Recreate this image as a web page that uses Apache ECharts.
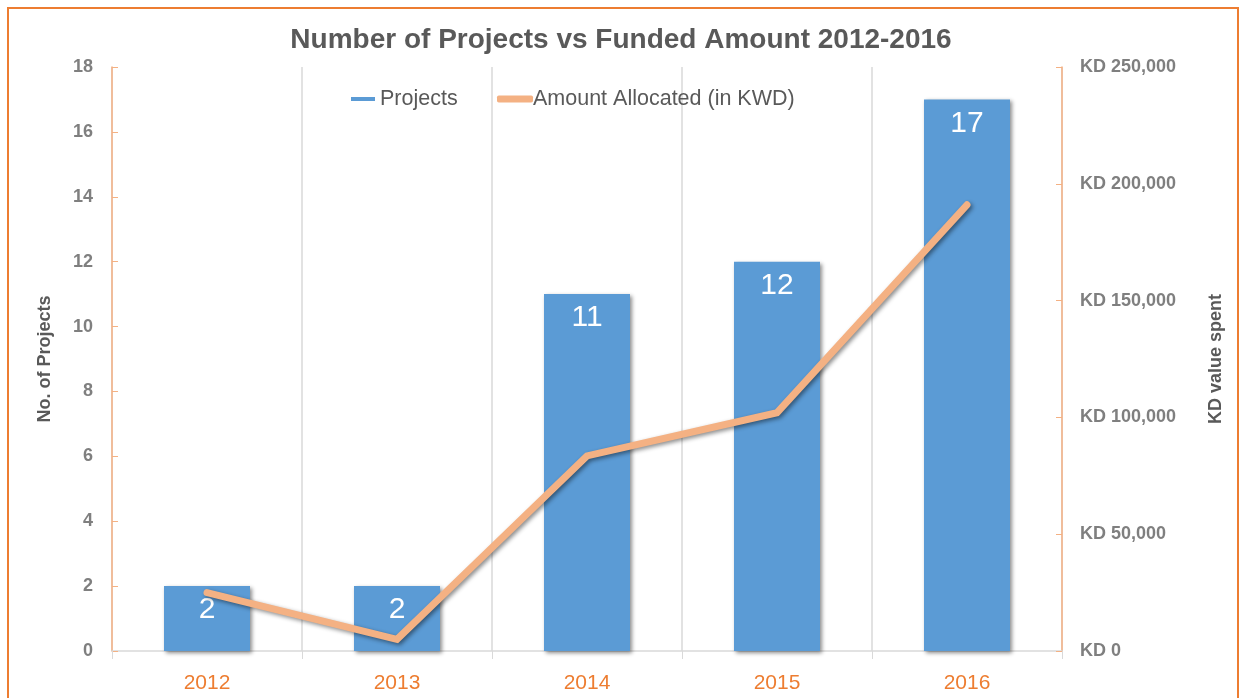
<!DOCTYPE html>
<html>
<head>
<meta charset="utf-8">
<title>Number of Projects vs Funded Amount 2012-2016</title>
<script src="https://cdn.jsdelivr.net/npm/echarts@6/dist/echarts.min.js"></script>
<style>
  html, body {
    margin: 0;
    padding: 0;
    background: #fff;
    overflow: hidden;
  }
  #frame {
    position: absolute;
    left: 7px;
    top: 7px;
    width: 1228px;
    height: 720px;
    border: 2px solid #ED7D31;
  }
  #chart {
    position: absolute;
    left: 0;
    top: 0;
    width: 1239px;
    height: 698px;
  }
</style>
</head>
<body>
<div id="frame"></div>
<div id="chart"></div>
<script>
  var years = ["2012", "2013", "2014", "2015", "2016"];
  var projects = [2, 2, 11, 12, 17];
  var amounts = [25000, 5000, 83500, 102000, 191000];
  var leftTicks = { min: 0, max: 18, interval: 2 };
  var rightTicks = { min: 0, max: 250000, interval: 50000 };

  var chart = echarts.init(document.getElementById("chart"));
  var font = "'Liberation Sans', Arial, sans-serif";

  chart.setOption({
    animation: false,
    title: {
      text: "Number of Projects vs Funded Amount 2012-2016",
      left: 616,
      textAlign: "center",
      top: 21,
      textStyle: {
        fontFamily: font,
        fontSize: 28,
        fontWeight: "bold",
        color: "#595959"
      }
    },
    legend: [{
      left: 346,
      top: 83,
      data: ["Projects"],
      icon: "rect",
      itemWidth: 24,
      itemHeight: 4,
      textStyle: { fontFamily: font, fontSize: 21.5, color: "#595959" }
    }, {
      left: 492,
      top: 83,
      data: ["Amount Allocated (in KWD)"],
      icon: "roundRect",
      itemWidth: 36,
      itemHeight: 7,
      textStyle: { fontFamily: font, fontSize: 21.5, color: "#595959", padding: [0, 0, 0, -5] }
    }],
    grid: {
      left: 112,
      right: 177,
      top: 67,
      bottom: 47
    },
    xAxis: {
      type: "category",
      data: years,
      boundaryGap: true,
      axisLine: { lineStyle: { color: "#d9d9d9", width: 1.5 } },
      axisTick: { show: true, length: 8, lineStyle: { color: "#d9d9d9" } },
      splitLine: { show: true, lineStyle: { color: "#d9d9d9", width: 1.5 } },
      axisLabel: {
        margin: 22,
        fontFamily: font,
        fontSize: 21,
        color: "#ED7D31"
      }
    },
    yAxis: [{
      type: "value",
      min: leftTicks.min,
      max: leftTicks.max,
      interval: leftTicks.interval,
      name: "No. of Projects",
      nameLocation: "middle",
      nameRotate: 90,
      nameGap: 58,
      nameTextStyle: { fontFamily: font, fontSize: 18, fontWeight: "bold", color: "#595959" },
      axisLine: { show: true, lineStyle: { color: "#F4B183", width: 1.5 } },
      axisTick: { show: true, inside: true, length: 6, lineStyle: { color: "#F4B183" } },
      splitLine: { show: false },
      axisLabel: {
        margin: 19,
        fontFamily: font,
        fontSize: 18,
        fontWeight: "bold",
        color: "#7F7F7F"
      }
    }, {
      type: "value",
      position: "right",
      min: rightTicks.min,
      max: rightTicks.max,
      interval: rightTicks.interval,
      name: "KD value spent",
      nameLocation: "middle",
      nameRotate: 90,
      nameGap: 145,
      nameTextStyle: { fontFamily: font, fontSize: 18, fontWeight: "bold", color: "#595959" },
      axisLine: { show: true, lineStyle: { color: "#F4B183", width: 1.5 } },
      axisTick: { show: true, inside: true, length: 6, lineStyle: { color: "#F4B183" } },
      splitLine: { show: false },
      axisLabel: {
        margin: 18,
        fontFamily: font,
        fontSize: 18,
        fontWeight: "bold",
        color: "#7F7F7F",
        formatter: function (v) {
          return "KD " + v.toLocaleString("en-US");
        }
      }
    }],
    series: [{
      name: "Projects",
      type: "bar",
      yAxisIndex: 0,
      data: projects,
      barWidth: 86,
      itemStyle: {
        color: "#5B9BD5",
        shadowColor: "rgba(0,0,0,0.45)",
        shadowBlur: 4,
        shadowOffsetX: 2,
        shadowOffsetY: 2
      },
      label: {
        show: true,
        position: "insideTop",
        distance: 9,
        fontFamily: font,
        fontSize: 30,
        color: "#fff"
      }
    }, {
      name: "Amount Allocated (in KWD)",
      type: "line",
      yAxisIndex: 1,
      data: amounts,
      symbol: "none",
      itemStyle: { color: "#F4B183" },
      lineStyle: {
        color: "#F4B183",
        width: 7,
        cap: "round",
        join: "miter",
        shadowColor: "rgba(0,0,0,0.45)",
        shadowBlur: 4,
        shadowOffsetX: 2,
        shadowOffsetY: 2
      }
    }]
  });
</script>
</body>
</html>
